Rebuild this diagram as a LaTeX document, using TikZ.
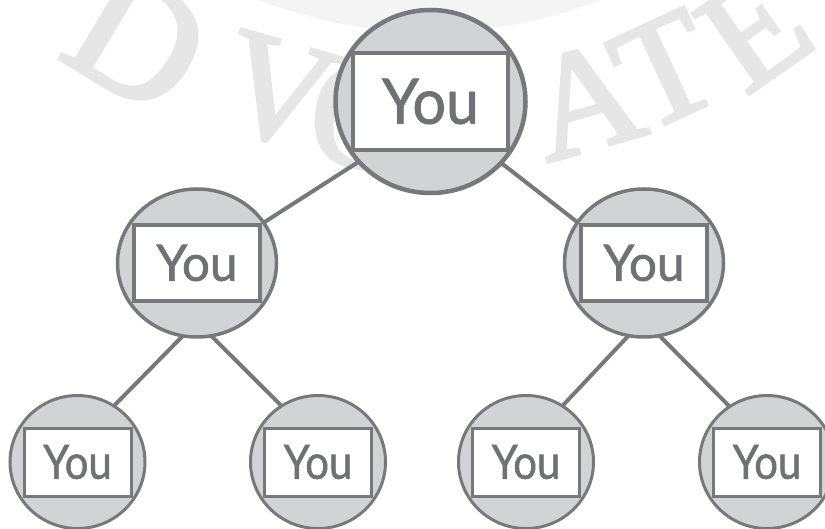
\documentclass[tikz,border=0pt]{standalone}
\usepackage{graphicx}
\usepackage{fontspec}
\setmainfont{Lato}
\newfontfamily\youfont[FakeBold=1.2]{Lato}
\newfontfamily\wmfont[FakeBold=2.5]{Liberation Serif}
\usetikzlibrary{shapes.geometric}
\definecolor{edgegray}{RGB}{119,120,123}
\definecolor{fillgray}{RGB}{209,211,212}
\definecolor{textgray}{RGB}{112,113,116}
\definecolor{wmgray}{RGB}{230,230,230}
\definecolor{ringgray}{RGB}{244,244,244}
\pgfdeclarelayer{bg}
\pgfsetlayers{bg,main}
\begin{document}
\begin{tikzpicture}[x=1pt,y=1pt,
  disc/.style={ellipse, draw=edgegray, fill=fillgray, inner sep=0pt, outer sep=0pt},
  ybox/.style={rectangle, draw=edgegray, fill=white, inner sep=0pt, outer sep=0pt, text=textgray, font=\youfont\fontsize{40}{40}\selectfont},
  topdisc/.style={disc, line width=4.5pt, minimum width=190pt, minimum height=183pt},
  middisc/.style={disc, line width=3.5pt, minimum width=159pt, minimum height=148pt},
  lowdisc/.style={disc, line width=3pt, minimum width=135pt, minimum height=133pt},
  topbox/.style={ybox, line width=4.5pt, minimum width=155pt, minimum height=97pt},
  midbox/.style={ybox, line width=3.5pt, minimum width=126pt, minimum height=76pt},
  lowbox/.style={ybox, line width=3pt, minimum width=107pt, minimum height=68pt},
  link/.style={draw=edgegray, line width=4pt},
  wm/.style={text=wmgray, inner sep=0pt, font=\wmfont\fontsize{150}{150}\selectfont}]
\path[use as bounding box] (0,0) rectangle (825,-529);
\clip (0,0) rectangle (825,-529);

% faint watermark
\begin{pgfonlayer}{bg}
\draw[ringgray, line width=40pt] (430,440) circle (452);
\node[wm, rotate=-31, scale=1.15] (wD) at (138,-40) {D};
\node[wm, rotate=-16] (wV) at (278,-92) {V};
\node[wm, rotate=-7] (wO) at (365,-118) {O};
\node[wm, rotate=2.5] (wC) at (458,-122) {C};
\node[wm, rotate=16] (wA) at (585,-100) {A};
\node[wm, rotate=25] (wT) at (665,-70) {T};
\node[wm, rotate=35] (wE) at (755,-30) {E};
\end{pgfonlayer}

% top
\node[topdisc] (t) at (430.5,-101.5) {};
\node[topbox] (tb) at (t.center) {\resizebox{97pt}{45pt}{You}};
% middle
\node[middisc] (ml) at (197,-263) {};
\node[midbox] (mlb) at (ml.center) {\resizebox{81pt}{36pt}{You}};
\node[middisc] (mr) at (644,-263) {};
\node[midbox] (mrb) at (mr.center) {\resizebox{81pt}{36pt}{You}};
% bottom
\node[lowdisc] (b1) at (77.5,-462) {};
\node[lowbox] (b1b) at (b1.center) {\resizebox{68.5pt}{34pt}{You}};
\node[lowdisc] (b2) at (318,-462) {};
\node[lowbox] (b2b) at (b2.center) {\resizebox{68.5pt}{34pt}{You}};
\node[lowdisc] (b3) at (526,-462) {};
\node[lowbox] (b3b) at (b3.center) {\resizebox{68.5pt}{34pt}{You}};
\node[lowdisc] (b4) at (767,-462) {};
\node[lowbox] (b4b) at (b4.center) {\resizebox{68.5pt}{34pt}{You}};

% connectors
\begin{pgfonlayer}{bg}
\draw[link] (t.220) -- (mlb.north east);
\draw[link] (t.319) -- (mrb.north west);
\draw[link] (ml.259) -- (b1.57);
\draw[link] (ml.281) -- (b2.123);
\draw[link] (mr.258) -- (b3.57);
\draw[link] (mr.282) -- (b4.124);
\end{pgfonlayer}
\end{tikzpicture}
\end{document}
